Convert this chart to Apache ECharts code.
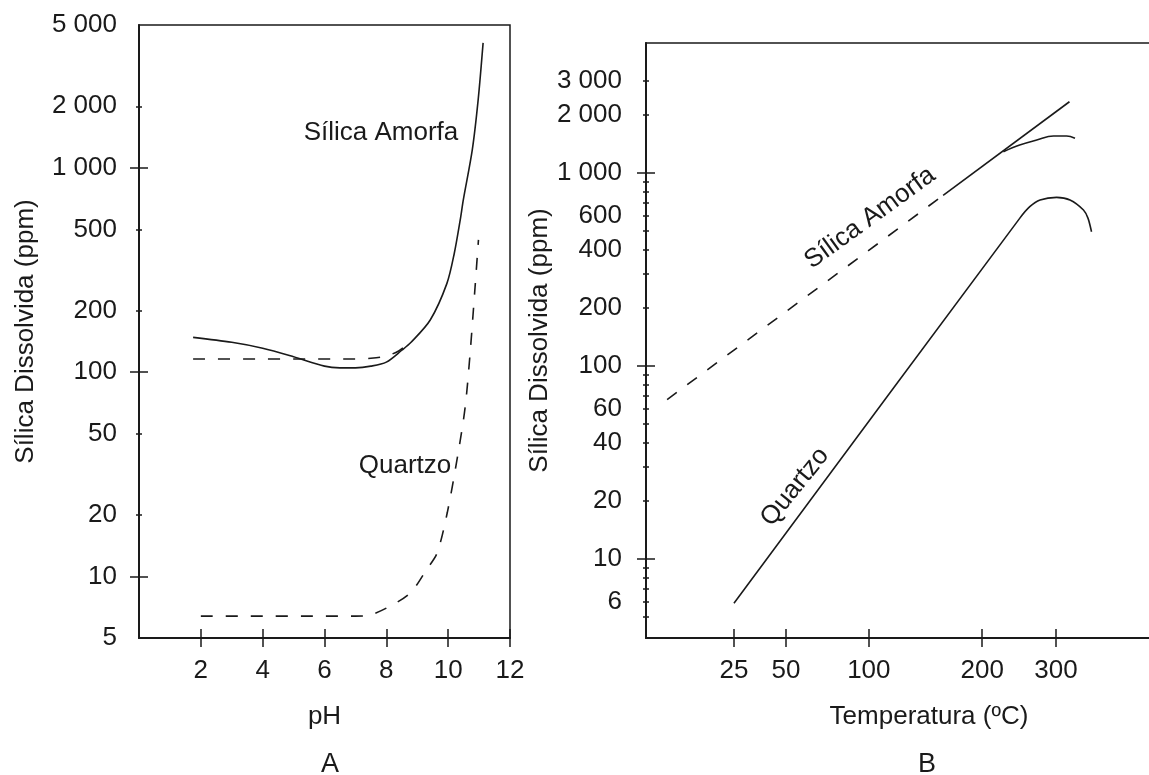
<!DOCTYPE html>
<html><head><meta charset="utf-8">
<script src="https://cdn.jsdelivr.net/npm/echarts@6/dist/echarts.min.js"></script>
<style>html,body{margin:0;padding:0;background:#fff}#c{width:1149px;height:775px}</style>
</head><body><div id="c"></div>
<script>
// ---------- Panel A : solubility vs pH ----------
const phAmorfa = [1.75, 3.0, 4.0, 5.0, 6.0, 6.5, 7.0, 7.5, 8.0, 8.5, 8.8, 9.42, 9.96, 10.2, 10.39, 10.49, 10.78, 10.97, 11.13];
const ppmAmorfa = [148, 140, 131, 119, 107, 105, 105, 107, 112, 128, 140, 180, 272, 383, 556, 697, 1224, 2150, 4085];
const phAmorfaDash = [1.75, 7.0, 7.5, 8.0, 8.4, 8.77];
const ppmAmorfaDash = [116, 116, 117, 120, 127, 140];
const phQuartzo = [2.0, 7.0, 7.4, 8.0, 8.77, 9.3, 9.64, 9.97, 10.32, 10.55, 10.71, 10.87, 10.98];
const ppmQuartzo = [6.4, 6.4, 6.45, 7.0, 8.3, 10.8, 13, 20.5, 40, 67.5, 124, 261, 444];
const phTicks = [2, 4, 6, 8, 10, 12];
const yLabelsA = [5, 10, 20, 50, 100, 200, 500, 1000, 2000, 5000];
const yMajorA = [10, 100, 1000];
const yMinorA = [20, 50, 200, 500, 2000];

// ---------- Panel B : solubility vs temperature ----------
const tAmorfaDash = [-2, 160];
const ppmAmorfaDashB = [67, 766];
const tAmorfa = [160, 323];
const ppmAmorfaB = [766, 2340];
const tAmorfaCurva = [225, 246, 270, 296, 318, 333];
const ppmAmorfaCurva = [1289, 1396, 1483, 1555, 1555, 1513];
const tQuartzo = [25, 246, 260, 275, 301, 324, 349, 358, 365];
const ppmQuartzoB = [5.9, 582, 669, 725, 748, 725, 643, 582, 496];
const tTicks = [25, 50, 100, 200, 300];
const yLabelsB = [6, 10, 20, 40, 60, 100, 200, 400, 600, 1000, 2000, 3000];
const yMajorB = [10, 100, 1000];
const yMinorB = [5, 6, 7, 8, 9, 20, 30, 40, 50, 60, 70, 80, 90, 200, 300, 400, 500, 600, 700, 800, 900, 2000, 3000];

// x scale of panel B is reciprocal absolute temperature
const invT = t => -1000 / (t + 273.15);
const fromInv = x => -1000 / x - 273.15;

const FONT = '"Liberation Sans", Arial, sans-serif';
const INK = '#1a1a1a';
const fmtPpm = v => { v = Math.round(v); return v >= 1000 ? Math.floor(v / 1000) + ' ' + String(v % 1000).padStart(3, '0') : String(v); };

const pairs = (xs, ys, fx) => xs.map((x, i) => [fx ? fx(x) : x, ys[i]]);

function tickAxis(base, values, inside, len) {
  return Object.assign({}, base, {
    name: '',
    axisLine: { show: false },
    axisLabel: { show: false },
    splitLine: { show: false },
    axisTick: { show: true, inside: inside, length: len, customValues: values, lineStyle: { color: INK, width: 1.5 } }
  });
}

const yA = { type: 'log', gridIndex: 0, position: 'left', min: 5, max: 5000, logBase: 10 };
const yB = { type: 'log', gridIndex: 1, position: 'left', min: 3.897, max: 4716, logBase: 10 };
const xA = { type: 'value', gridIndex: 0, position: 'bottom', min: 0, max: 12 };
const xB = { type: 'value', gridIndex: 1, position: 'bottom', min: -3.7936, max: -0.965 };

const mainAxisCommon = {
  axisLine: { show: true, lineStyle: { color: INK, width: 2 } },
  axisTick: { show: false },
  splitLine: { show: false },
  nameLocation: 'middle',
  nameTextStyle: { fontFamily: FONT, fontSize: 26, color: INK }
};
const labelStyle = { fontFamily: FONT, fontSize: 26, color: INK };

const option = {
  backgroundColor: '#fff',
  animation: false,
  grid: [
    { left: 139, top: 25, width: 371, height: 613, show: true, borderColor: INK, borderWidth: 1.5, backgroundColor: 'transparent', containLabel: false, outerBoundsMode: 'none' },
    { left: 646, top: 43, width: 566, height: 595, show: true, borderColor: INK, borderWidth: 1.5, backgroundColor: 'transparent', containLabel: false, outerBoundsMode: 'none' }
  ],
  xAxis: [
    Object.assign({}, xA, mainAxisCommon, {
      name: 'pH', nameGap: 66,
      axisLabel: Object.assign({ customValues: phTicks, margin: 20 }, labelStyle)
    }),
    tickAxis(xA, phTicks, false, 9),
    tickAxis(xA, phTicks, true, 9),
    Object.assign({}, xB, mainAxisCommon, {
      name: 'Temperatura (ºC)', nameGap: 66,
      axisLabel: Object.assign({ customValues: tTicks.map(invT), margin: 20,
        formatter: v => String(Math.round(fromInv(v))) }, labelStyle)
    }),
    tickAxis(xB, tTicks.map(invT), false, 9),
    tickAxis(xB, tTicks.map(invT), true, 9)
  ],
  yAxis: [
    Object.assign({}, yA, mainAxisCommon, {
      name: 'Sílica Dissolvida (ppm)', nameGap: 100,
      axisLabel: Object.assign({ customValues: yLabelsA, margin: 22, formatter: fmtPpm }, labelStyle)
    }),
    tickAxis(yA, yMajorA, false, 9),
    tickAxis(yA, yMajorA, true, 9),
    tickAxis(yA, yMinorA, false, 3),
    tickAxis(yA, yMinorA, true, 3),
    Object.assign({}, yB, mainAxisCommon, {
      name: 'Sílica Dissolvida (ppm)', nameGap: 93,
      axisLabel: Object.assign({ customValues: yLabelsB, margin: 24, formatter: fmtPpm }, labelStyle)
    }),
    tickAxis(yB, yMajorB, false, 9),
    tickAxis(yB, yMajorB, true, 9),
    tickAxis(yB, yMinorB, false, 3),
    tickAxis(yB, yMinorB, true, 3)
  ],
  series: [
    { name: 'Sílica Amorfa', type: 'line', xAxisIndex: 0, yAxisIndex: 0, data: pairs(phAmorfa, ppmAmorfa), smooth: 0.3, showSymbol: false,
      lineStyle: { color: INK, width: 1.6 } },
    { name: 'Sílica Amorfa (tracejada)', type: 'line', xAxisIndex: 0, yAxisIndex: 0, data: pairs(phAmorfaDash, ppmAmorfaDash), smooth: 0.3, showSymbol: false,
      lineStyle: { color: INK, width: 1.6, type: [12, 13] } },
    { name: 'Quartzo', type: 'line', xAxisIndex: 0, yAxisIndex: 0, data: pairs(phQuartzo, ppmQuartzo), smooth: 0.3, showSymbol: false,
      lineStyle: { color: INK, width: 1.6, type: [12, 13] } },
    { name: 'Sílica Amorfa B (tracejada)', type: 'line', xAxisIndex: 3, yAxisIndex: 5, data: pairs(tAmorfaDash, ppmAmorfaDashB, invT), showSymbol: false,
      lineStyle: { color: INK, width: 1.6, type: [12, 13] } },
    { name: 'Sílica Amorfa B', type: 'line', xAxisIndex: 3, yAxisIndex: 5, data: pairs(tAmorfa, ppmAmorfaB, invT), showSymbol: false,
      lineStyle: { color: INK, width: 1.6 } },
    { name: 'Sílica Amorfa B (curva)', type: 'line', xAxisIndex: 3, yAxisIndex: 5, data: pairs(tAmorfaCurva, ppmAmorfaCurva, invT), smooth: 0.4, showSymbol: false,
      lineStyle: { color: INK, width: 1.6 } },
    { name: 'Quartzo B', type: 'line', xAxisIndex: 3, yAxisIndex: 5, data: pairs(tQuartzo, ppmQuartzoB, invT), smooth: 0.25, showSymbol: false,
      lineStyle: { color: INK, width: 1.6 } }
  ],
  graphic: [
    { type: 'text', x: 381, y: 133, style: { text: 'Sílica Amorfa', fontFamily: FONT, fontSize: 26, fill: INK, align: 'center', verticalAlign: 'middle' } },
    { type: 'text', x: 405, y: 466, style: { text: 'Quartzo', fontFamily: FONT, fontSize: 26, fill: INK, align: 'center', verticalAlign: 'middle' } },
    { type: 'text', x: 870, y: 218, rotation: 36 * Math.PI / 180, style: { text: 'Sílica Amorfa', fontFamily: FONT, fontSize: 26, fill: INK, align: 'center', verticalAlign: 'middle' } },
    { type: 'text', x: 795, y: 487, rotation: 51 * Math.PI / 180, style: { text: 'Quartzo', fontFamily: FONT, fontSize: 26, fill: INK, align: 'center', verticalAlign: 'middle' } },
    { type: 'text', x: 330, y: 765, style: { text: 'A', fontFamily: FONT, fontSize: 27, fill: INK, align: 'center', verticalAlign: 'middle' } },
    { type: 'text', x: 927, y: 765, style: { text: 'B', fontFamily: FONT, fontSize: 27, fill: INK, align: 'center', verticalAlign: 'middle' } }
  ]
};

const chart = echarts.init(document.getElementById('c'), null, { renderer: 'canvas' });
chart.setOption(option);
</script>
</body></html>
